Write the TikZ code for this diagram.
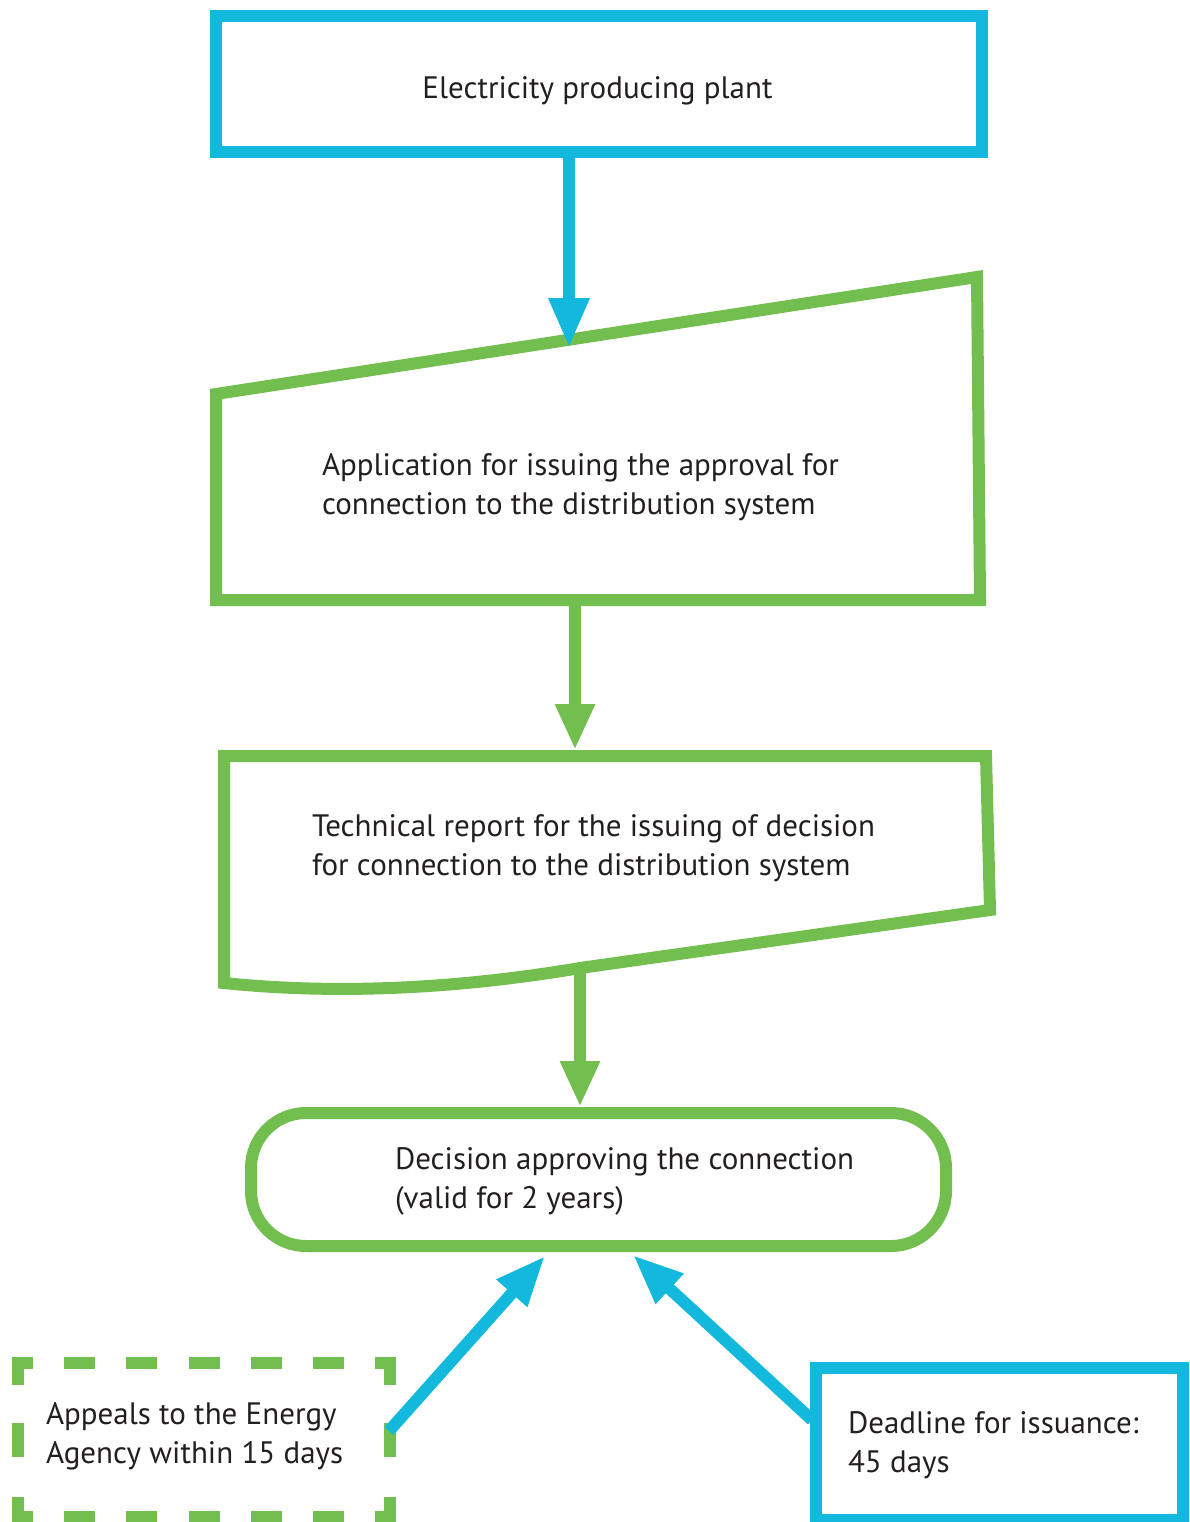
\documentclass[tikz,border=0pt]{standalone}
\usepackage{fontspec}
\setmainfont{PT Sans}
\usetikzlibrary{arrows.meta}
\definecolor{cblue}{RGB}{18,185,220}
\definecolor{cgreen}{RGB}{114,191,79}
\definecolor{ctext}{RGB}{35,31,32}
\begin{document}
\begin{tikzpicture}[x=1pt,y=-1pt,
  lbl/.style={anchor=base west, align=left, inner sep=0pt, outer sep=0pt, text=ctext, font=\fontsize{31}{38.5}\selectfont},
  bluebox/.style={draw=cblue, line width=12pt, rectangle, inner sep=0pt},
  greenbox/.style={draw=cgreen, line width=12pt, rectangle, inner sep=0pt},
  gshape/.style={draw=cgreen, line width=12pt},
  barrow/.style={draw=cblue, fill=cblue, line width=12pt, -{Triangle[length=50pt,width=38pt]}},
  garrow/.style={draw=cgreen, fill=cgreen, line width=12pt, -{Triangle[length=46pt,width=37pt]}},
  gdashh/.style={draw=cgreen, line width=12pt, dash pattern=on 31pt off 31.2pt, dash phase=10pt},
  gdashv/.style={draw=cgreen, line width=12pt, dash pattern=on 28pt off 38pt on 34pt off 40pt on 40pt off 20pt}
]
\useasboundingbox (0,0) rectangle (1189,1522);

% top box
\node[bluebox, minimum width=766pt, minimum height=136pt] (plant) at (599,84) {};
\node[lbl, anchor=base] (plantT) at (597.5,99) {Electricity producing plant};

% application (manual input)
\draw[gshape] (216,394) -- (977,277) -- (980,600) -- (216,600) -- cycle;
\node[lbl] (appT) at (322,514) {Application for issuing the approval for\\connection to the distribution system};
\coordinate (apIn) at (569,348);
\coordinate (apOut) at (575,606);

% technical report (document)
\draw[gshape] (224,756) -- (986,756) -- (990,910) -- (580,968)
  .. controls (450,990) and (330,994) .. (224,983) -- cycle;
\node[lbl] (techT) at (312,875) {Technical report for the issuing of decision\\for connection to the distribution system};
\coordinate (trIn) at (575,750);
\coordinate (trOut) at (580,970);

% decision
\node[greenbox, rounded corners=55pt, minimum width=695pt, minimum height=133pt] (dec) at (598.5,1179.5) {};
\node[lbl] (decT) at (395,1208) {Decision approving the connection\\(valid for 2 years)};
\coordinate (decL) at (545,1256);
\coordinate (decR) at (633,1255);

% appeals (dashed)
\draw[gdashh] (12,1363) -- (396,1363);
\draw[gdashh] (12,1517) -- (396,1517);
\draw[gdashv] (18,1357) -- (18,1523);
\draw[gdashv] (390,1357) -- (390,1523);
\node[lbl] (appealT) at (46,1463) {Appeals to the Energy\\Agency within 15 days};
\coordinate (appealOut) at (389,1431);

% deadline
\node[bluebox, minimum width=367pt, minimum height=152pt] (dead) at (999.5,1444) {};
\node[lbl] (deadT) at (848,1472) {Deadline for issuance:\\45 days};
\coordinate (deadOut) at (812,1420);

% connectors
\draw[barrow] (plant.south -| apIn) -- (apIn);
\draw[garrow] (apOut) -- (trIn);
\draw[garrow] (trOut) -- (dec.north -| trOut);
\draw[barrow] (appealOut) -- (decL);
\draw[barrow] (deadOut) -- (decR);
\end{tikzpicture}
\end{document}
